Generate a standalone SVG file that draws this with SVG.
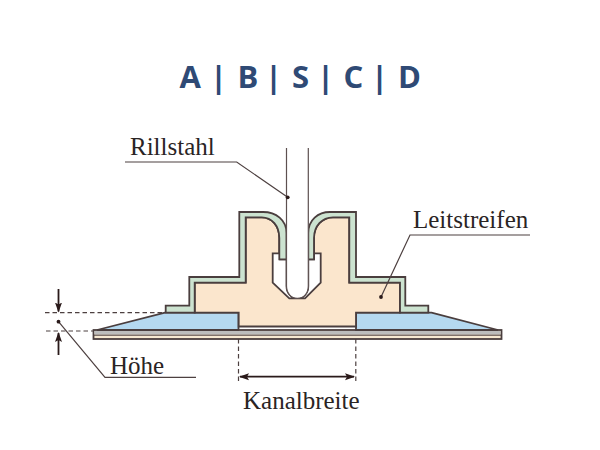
<svg xmlns="http://www.w3.org/2000/svg" width="600" height="450" viewBox="0 0 600 450">
<style>
.s{stroke:#4a3e3e;stroke-width:1.800;stroke-linejoin:miter}
.l{fill:none;stroke:#4d4040;stroke-width:1.200}
.d{fill:none;stroke:#4d4040;stroke-width:1.200;stroke-dasharray:4.500 3}
.t{font-family:"Liberation Serif",serif;font-size:25px;fill:#2a2424}
.dot{fill:#2a1a1a}
.g{fill:#cce3d0}
.b{fill:#b5d9f0}
.h{fill:#2f4a75;font-family:"Open Sans",sans-serif;font-weight:700;font-size:31px}
</style>
<defs>
<marker id="a" viewBox="0 0 10 8" refX="9" refY="4" markerWidth="10" markerHeight="8" markerUnits="userSpaceOnUse" orient="auto-start-reverse"><path d="M0 0.500L10 4L0 7.500L2 4z" fill="#2a1a1a"/></marker>
</defs>
<rect width="600" height="450" fill="#fff"/>
<g id="title"><text class="h" x="179.500 210 237.500 265 292 317 343.500 371 398" y="87.500">A|B|S|C|D</text></g>
<g id="base">
<rect class="s" x="93.500" y="330" width="408" height="9" fill="#f7e9d2"/>
<rect x="94.400" y="331" width="406.200" height="3.600" fill="#bdbdbd"/>
<path d="M93.500 335.200H501.500" fill="none" stroke="#4a3e3e" stroke-width="1"/>
</g>
<g id="blue">
<path class="s b" d="M165 312.700L97 330H238.500V312.700Z"/>
<path class="s b" d="M431.500 312.700L498 330H356V312.700Z"/>
</g>
<g id="leitstreifen">
<path class="s" fill="#fbe6cd" d="M194.700 312.700V282.700H245.700V217.300H261.700C272 217.300 279.300 226 279.300 238V253H314V238C314 226 322 217.300 333 217.300H349.300V282.700H400V312.700H356V326.500H238.700V312.700Z"/>
<path class="s" fill="#fff" d="M272.700 253.300H280V259.300H286.500V286C286.500 293 291 298.300 297.300 298.300C304 298.300 308.300 293 308.300 286V259.300H314V253.300H320.700V282.700L305 298.300H289.300L272.700 282.700Z"/>
<path class="s g" d="M279.300 259.300V238C279.300 226 272 217.300 261.700 217.300H245.700V282.700H194.700V312.700H165.700V305.700H189.300V277H239.300V212H263C276 212 286.500 220 286.500 233V259.300Z"/>
<path class="s g" d="M314 259.300V238C314 226 322 217.300 333 217.300H349.300V282.700H400V312.700H428.300V305.700H405.300V277H356V212H330C318 212 308.300 220 308.300 233V259.300Z"/>
</g>
<g id="rillstahl">
<path d="M286.500 148V286C286.500 293 291 298.300 297.300 298.300C304 298.300 308.300 293 308.300 286V148" fill="#fff" stroke="#5d5050" stroke-width="1.200"/>
</g>
<g id="connectors">
<path class="l" d="M125 162H236.700L287.700 197.300"/><circle class="dot" cx="287.700" cy="197.300" r="1.900"/>
<path class="l" d="M381 297L410 235H530"/><circle class="dot" cx="381" cy="297" r="1.900"/>
<path class="l" d="M58.500 321.700L105 377.300H196"/><circle class="dot" cx="58.500" cy="321.700" r="1.900"/>
<path class="d" d="M45 312.700H165M46 331H93M238.500 339V382M355.800 339V382"/>
<path d="M58.500 289V311.500" stroke="#2a1a1a" stroke-width="1.800" marker-end="url(#a)"/>
<path d="M58.500 355V333" stroke="#2a1a1a" stroke-width="1.800" marker-end="url(#a)"/>
<path d="M240 376.700H354" stroke="#2a1a1a" stroke-width="1.800" marker-start="url(#a)" marker-end="url(#a)"/>
</g>
<g id="labels">
<text class="t" x="130" y="155">Rillstahl</text>
<text class="t" x="413" y="228">Leitstreifen</text>
<text class="t" x="110" y="374">Höhe</text>
<text class="t" x="243" y="409">Kanalbreite</text>
</g>
</svg>
